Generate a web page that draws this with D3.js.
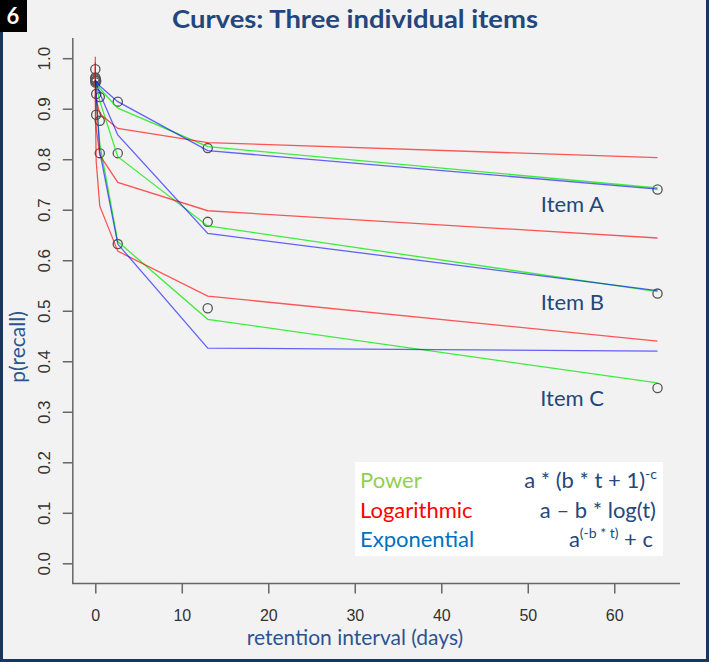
<!DOCTYPE html>
<html>
<head>
<meta charset="utf-8">
<script src="https://cdn.jsdelivr.net/npm/d3@7/dist/d3.min.js"></script>
<style>
  html, body { margin: 0; padding: 0; background: #f2f2f2; }
  svg { display: block; }
</style>
</head>
<body>
<svg width="709" height="662"></svg>
<script>
// retention intervals (days) at which each item was tested
var times = [0.00416, 0.0208, 0.104, 0.52, 2.6, 13, 65]
var itemNames = ['Item A', 'Item B', 'Item C']

// observed p(recall), one row per item
var observed = [
  [0.962, 0.958, 0.955, 0.923, 0.914, 0.822, 0.740],
  [0.978, 0.952, 0.929, 0.876, 0.812, 0.676, 0.534],
  [0.955, 0.960, 0.888, 0.812, 0.632, 0.505, 0.347]
]

// fitted curves
var powerFit = [
  [0.956, 0.955, 0.952, 0.940, 0.901, 0.825, 0.743],
  [0.956, 0.954, 0.945, 0.915, 0.805, 0.668, 0.538],
  [0.955, 0.948, 0.920, 0.830, 0.637, 0.483, 0.357]
]
var logFit = [
  [0.982, 0.948, 0.919, 0.890, 0.861, 0.833, 0.803],
  [0.992, 0.916, 0.862, 0.808, 0.754, 0.698, 0.644],
  [1.003, 0.885, 0.796, 0.707, 0.618, 0.529, 0.440]
]
var expFit = [
  [0.957, 0.956, 0.954, 0.945, 0.914, 0.817, 0.741],
  [0.957, 0.955, 0.950, 0.930, 0.848, 0.653, 0.540],
  [0.956, 0.952, 0.930, 0.815, 0.632, 0.426, 0.420]
]

var xTicks = [0, 10, 20, 30, 40, 50, 60]
var yTicks = [0, 0.1, 0.2, 0.3, 0.4, 0.5, 0.6, 0.7, 0.8, 0.9, 1.0]
var modelNames = ['Power', 'Logarithmic', 'Exponential']

var executor = () => {
  var svg = d3.select('svg')
  var width = 709
  var height = 662

  var navy = '#17375e'
  var textBlue = '#24477c'

  var x = d3.scaleLinear().domain([-2.6, 67.6]).range([72.8, 680])
  var y = d3.scaleLinear().domain([-0.04, 1.04]).range([583.5, 38])

  // frame
  svg.append('rect').attr('x', 0).attr('y', 0).attr('width', width).attr('height', height).attr('fill', '#f2f2f2')
  svg.append('rect').attr('x', 0).attr('y', 0).attr('width', 3).attr('height', height).attr('fill', navy)
  svg.append('rect').attr('x', width - 3).attr('y', 0).attr('width', 3).attr('height', height).attr('fill', navy)
  svg.append('rect').attr('x', 0).attr('y', height - 3).attr('width', width).attr('height', 3).attr('fill', navy)

  // slide number badge
  svg.append('rect').attr('x', 0).attr('y', 0).attr('width', 27).attr('height', 32).attr('fill', '#000')
  svg.append('text').attr('x', 13).attr('y', 24)
    .attr('text-anchor', 'middle')
    .style('font-family', 'Lato, sans-serif').style('font-weight', 'bold').style('font-size', '22px')
    .attr('fill', '#fff').text('6')

  // title
  svg.append('text').attr('x', 355).attr('y', 28)
    .attr('text-anchor', 'middle')
    .attr('textLength', 366).attr('lengthAdjust', 'spacingAndGlyphs')
    .style('font-family', 'Lato, sans-serif').style('font-weight', 'bold').style('font-size', '24px')
    .attr('fill', '#23467c').text('Curves: Three individual items')

  // L-shaped box
  svg.append('path')
    .attr('d', `M${x.range()[0]},${y.range()[1]}V${y.range()[0]}H${x.range()[1]}`)
    .attr('fill', 'none').attr('stroke', '#666').attr('stroke-width', 1.5)

  var tickFont = 'Liberation Sans, Arial, sans-serif'

  var xAxis = g => g.attr('transform', `translate(0, ${y.range()[0]})`)
    .call(d3.axisBottom(x).tickValues(xTicks).tickSize(10).tickPadding(0).tickFormat(d3.format('d')))
    .call(g => g.select('.domain').remove())
    .call(g => g.selectAll('.tick line').attr('stroke', '#666').attr('stroke-width', 1.5))
    .call(g => g.selectAll('.tick text').attr('y', 37).attr('dy', null)
      .attr('fill', '#333').style('font-family', tickFont).style('font-size', '16px'))

  var yAxis = g => g.attr('transform', `translate(${x.range()[0]}, 0)`)
    .call(d3.axisLeft(y).tickValues(yTicks).tickSize(10).tickFormat(d3.format('.1f')))
    .call(g => g.select('.domain').remove())
    .call(g => g.selectAll('.tick line').attr('stroke', '#666').attr('stroke-width', 1.5))
    .call(g => g.selectAll('.tick text')
      .attr('x', null).attr('dy', null)
      .attr('transform', 'translate(-23, 0) rotate(-90)')
      .attr('text-anchor', 'middle')
      .attr('fill', '#333').style('font-family', tickFont).style('font-size', '17px'))

  svg.append('g').attr('id', 'x-axis').call(xAxis)
  svg.append('g').attr('id', 'y-axis').call(yAxis)

  // axis titles
  svg.append('text').attr('x', 355).attr('y', 645)
    .attr('text-anchor', 'middle')
    .style('font-family', 'Lato, sans-serif').style('font-size', '21px')
    .attr('fill', '#2c5491').text('retention interval (days)')

  svg.append('text')
    .attr('transform', 'translate(25, 347) rotate(-90)')
    .attr('text-anchor', 'middle')
    .style('font-family', 'Lato, sans-serif').style('font-size', '21px')
    .attr('fill', '#2c5491').text('p(recall)')

  // observed points
  var points = []
  observed.forEach(row => row.forEach((v, i) => points.push([times[i], v])))
  svg.append('g').selectAll('circle').data(points).enter().append('circle')
    .attr('cx', d => x(d[0]))
    .attr('cy', d => y(d[1]))
    .attr('r', 4.6)
    .attr('fill', 'none')
    .attr('stroke', '#555')
    .attr('stroke-width', 1.3)

  // fitted curves
  var line = d3.line()
    .x((d, i) => x(times[i]))
    .y(d => y(d))

  var fits = [
    {rows: powerFit, color: 'rgba(0, 235, 0, 0.75)'},
    {rows: logFit, color: 'rgba(255, 0, 0, 0.65)'},
    {rows: expFit, color: 'rgba(0, 0, 255, 0.6)'}
  ]
  fits.forEach(f => {
    svg.append('g').selectAll('path').data(f.rows).enter().append('path')
      .attr('d', line)
      .attr('fill', 'none')
      .attr('stroke', f.color)
      .attr('stroke-width', 1.3)
  })

  // item labels
  var itemLabelY = [212, 310, 406]
  svg.append('g').selectAll('text').data(itemNames).enter().append('text')
    .attr('x', 604)
    .attr('y', (d, i) => itemLabelY[i])
    .attr('text-anchor', 'end')
    .style('font-family', 'Lato, sans-serif').style('font-size', '22px')
    .attr('fill', textBlue)
    .text(d => d)

  // legend box
  var legend = svg.append('g')
  legend.append('rect').attr('x', 355).attr('y', 462).attr('width', 308).attr('height', 94).attr('fill', '#fff')
  var legendColors = ['#92d050', '#ff0000', '#0070c0']
  var legendY = [488, 518, 547]
  legend.selectAll('text.name').data(modelNames).enter().append('text')
    .attr('class', 'name')
    .attr('x', 360)
    .attr('y', (d, i) => legendY[i])
    .style('font-family', 'Lato, sans-serif').style('font-size', '22px')
    .attr('fill', (d, i) => legendColors[i])
    .text(d => d)

  var fStyle = s => s.style('font-family', 'Lato, sans-serif').style('font-size', '22px').attr('fill', textBlue)

  var f1 = legend.append('text').attr('x', 657).attr('y', legendY[0]).attr('text-anchor', 'end').call(fStyle)
  f1.append('tspan').text('a * (b * t + 1)')
  f1.append('tspan').attr('dy', -9).style('font-size', '14px').text('-c')

  legend.append('text').attr('x', 656).attr('y', legendY[1]).attr('text-anchor', 'end').call(fStyle)
    .text('a \u2013 b * log(t)')

  var f3 = legend.append('text').attr('x', 653).attr('y', legendY[2]).attr('text-anchor', 'end').call(fStyle)
  f3.append('tspan').text('a')
  f3.append('tspan').attr('dy', -9).style('font-size', '14px').text('(-b * t)')
  f3.append('tspan').attr('dy', 9).text(' + c')
}

if (document.readyState === 'loading') {
  document.addEventListener('DOMContentLoaded', executor)
} else {
  executor()
}
</script>
</body>
</html>
